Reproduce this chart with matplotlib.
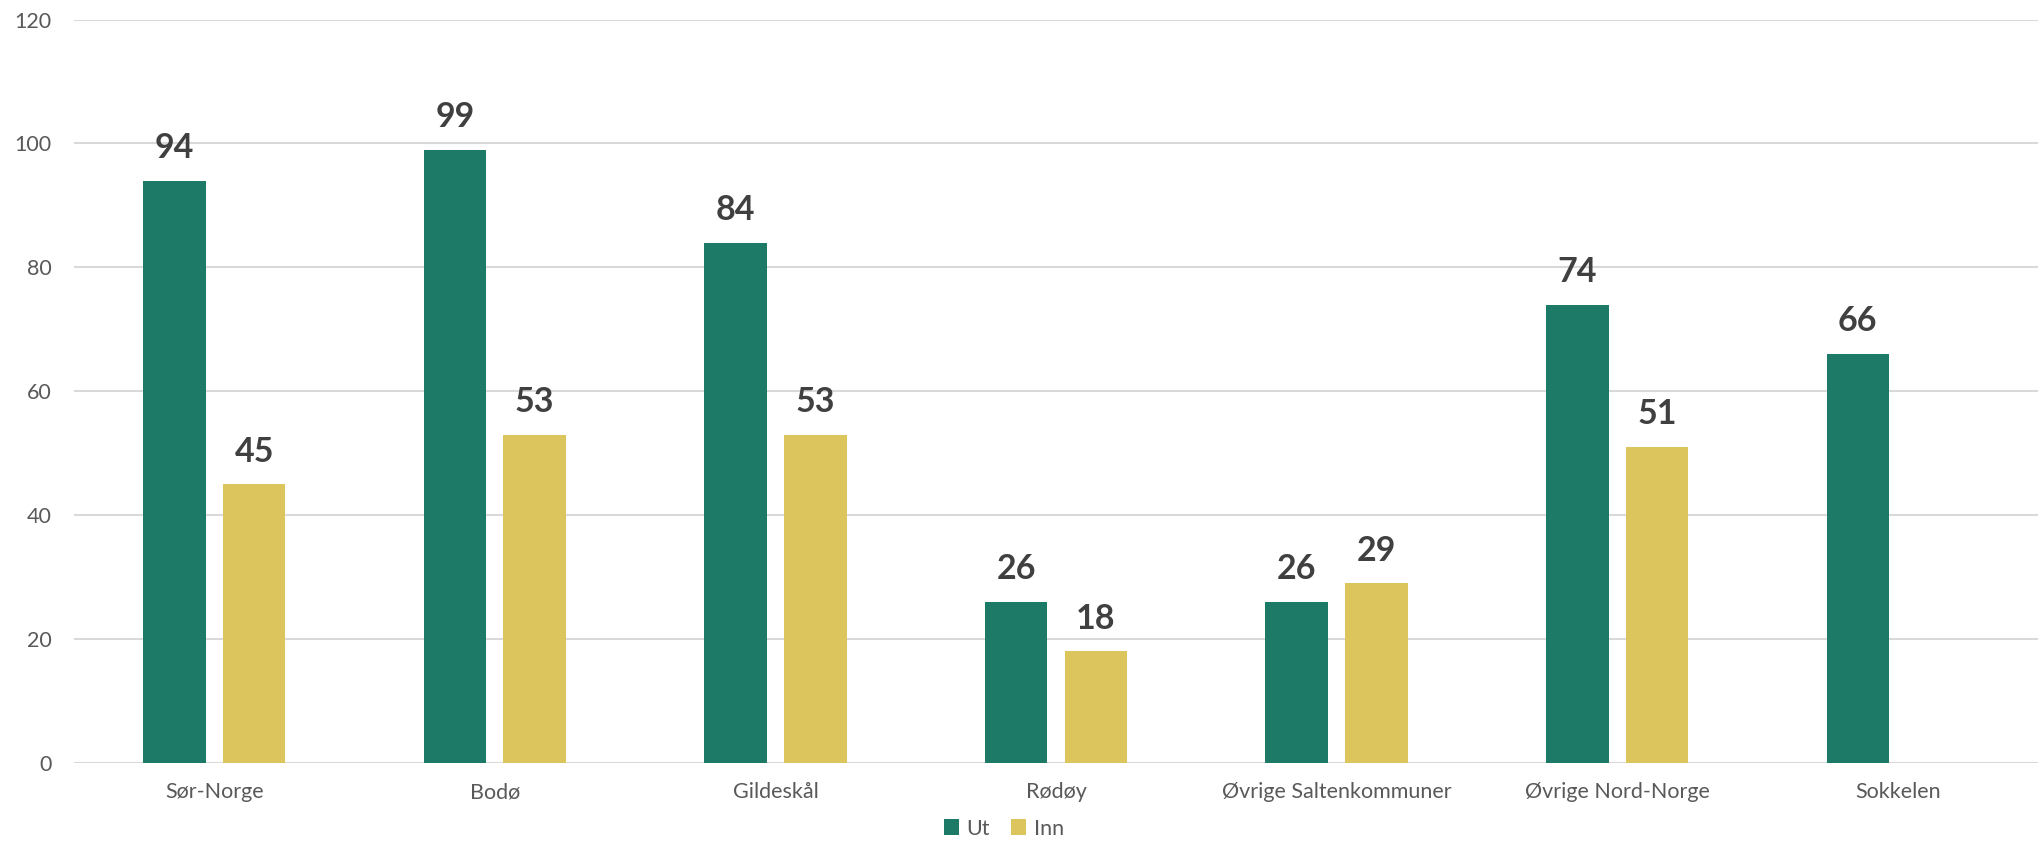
import matplotlib
matplotlib.use("Agg")
import matplotlib.pyplot as plt
import numpy as np
from matplotlib.patches import Patch

categories = ["Sør-Norge", "Bodø", "Gildeskål", "Rødøy", "Øvrige Saltenkommuner", "Øvrige Nord-Norge", "Sokkelen"]
ut = [94, 99, 84, 26, 26, 74, 66]
inn = [45, 53, 53, 18, 29, 51, None]
series_names = ["Ut", "Inn"]
yticks = [0, 20, 40, 60, 80, 100, 120]

green = "#1C7A66"
yellow = "#DDC55D"
label_color = "#404040"
tick_color = "#595959"
grid_color = "#D9D9D9"

plt.rcParams['font.family'] = ['Lato', 'DejaVu Sans']

fig = plt.figure(figsize=(20.38, 8.42), dpi=100)
ax = fig.add_axes([0.0363, 0.0938, 0.9637, 0.883])

x = np.arange(len(categories))
w = 0.223
off = 0.142

ut_vals = np.array(ut, dtype=float)
inn_mask = [v is not None for v in inn]
inn_x = x[inn_mask]
inn_vals = np.array([v for v in inn if v is not None], dtype=float)

b1 = ax.bar(x - off, ut_vals, width=w, color=green, zorder=3)
b2 = ax.bar(inn_x + off, inn_vals, width=w, color=yellow, zorder=3)

for bars, vals in ((b1, ut_vals), (b2, inn_vals)):
    for rect, v in zip(bars, vals):
        ax.annotate(f"{int(v)}", (rect.get_x() + rect.get_width() / 2, v),
                    xytext=(0, 12), textcoords="offset points",
                    ha="center", va="bottom", fontsize=24.5, fontweight="bold",
                    color=label_color)

ax.set_xlim(-0.5, len(categories) - 0.5)
ax.set_ylim(0, 120)
ax.set_yticks(yticks)
ax.set_yticklabels([str(t) for t in yticks])
ax.set_xticks(x)
ax.set_xticklabels(categories)
ax.tick_params(axis="both", length=0, labelsize=15.5, colors=tick_color)
ax.tick_params(axis="y", pad=16)
ax.tick_params(axis="x", pad=14)
ax.yaxis.grid(True, color=grid_color, linewidth=1.5, zorder=0)
ax.set_axisbelow(True)
for s in ax.spines.values():
    s.set_visible(False)

handles = [Patch(facecolor=green, label=series_names[0]), Patch(facecolor=yellow, label=series_names[1])]
leg = fig.legend(handles=handles, loc="center", bbox_to_anchor=(0.4925, 0.016), ncol=2,
                 frameon=False, fontsize=15.5, handlelength=0.7, handleheight=0.7,
                 handletextpad=0.35, columnspacing=1.0)
for t in leg.get_texts():
    t.set_color(tick_color)

fig.savefig("out.png", dpi=100)
